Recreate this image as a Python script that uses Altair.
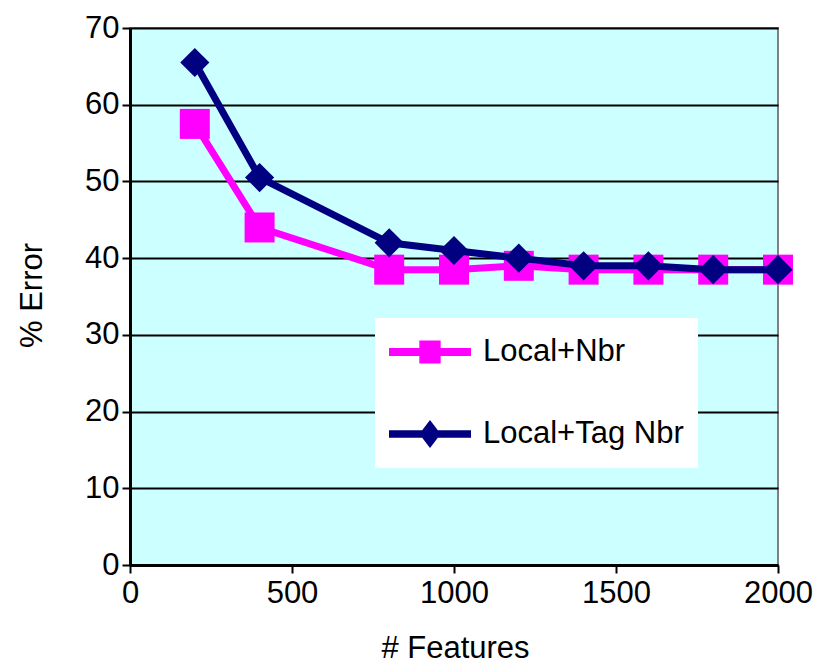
import altair as alt
import pandas as pd

features = [200, 400, 800, 1000, 1200, 1400, 1600, 1800, 2000]
local_nbr = [57.5, 44, 38.5, 38.5, 39, 38.5, 38.5, 38.5, 38.5]
local_tag_nbr = [65.5, 50.5, 42, 41, 40, 39, 39, 38.5, 38.5]
series_names = ["Local+Nbr", "Local+Tag Nbr"]
series_colors = ["#FF00FF", "#000080"]
x_ticks = [0, 500, 1000, 1500, 2000]
y_ticks = [0, 10, 20, 30, 40, 50, 60, 70]

rows = []
for f, v in zip(features, local_nbr):
    rows.append({"features": f, "error": v, "series": series_names[0]})
for f, v in zip(features, local_tag_nbr):
    rows.append({"features": f, "error": v, "series": series_names[1]})
df = pd.DataFrame(rows)

FONT = "Liberation Sans"
FS = 31

x_enc = alt.X("features:Q", scale=alt.Scale(domain=[0, 2000], nice=False),
              axis=alt.Axis(values=x_ticks, grid=False, title="# Features",
                            titleX=325, titleY=83, titleAlign="center",
                            titleBaseline="middle", labelFlush=False,
                            labelPadding=5, format="d"))
y_enc = alt.Y("error:Q", scale=alt.Scale(domain=[0, 70], nice=False),
              axis=alt.Axis(values=y_ticks, grid=True, title="% Error",
                            titleX=-98, titleY=267, titleAngle=-90,
                            titleAlign="center", titleBaseline="middle",
                            labelPadding=3))

base = alt.Chart(df)

def series_layers(name, color, shape, size):
    d = base.transform_filter(alt.datum.series == name)
    line = d.mark_line(color=color, strokeWidth=7).encode(x=x_enc, y=y_enc)
    pts = d.mark_point(shape=shape, filled=True, color=color, size=size,
                       opacity=1).encode(x=x_enc, y=y_enc)
    return [line, pts]

pink_path = ("M-1,-0.1L1,-0.1L1,0.1L-1,0.1Z "
             "M-0.26,-0.28L0.26,-0.28L0.26,0.28L-0.26,0.28Z")
navy_path = ("M-1,-0.09L1,-0.09L1,0.09L-1,0.09Z "
             "M-0.26,0L0,-0.34L0.26,0L0,0.34Z")

legend_def = alt.Legend(orient="none", legendX=245, legendY=290,
                        fillColor="white", padding=14, title=None,
                        labelFont=FONT, labelFontSize=FS, labelColor="black",
                        labelLimit=0,
                        symbolSize=6724, symbolStrokeWidth=0, symbolOpacity=1,
                        clipHeight=40, rowPadding=42, labelOffset=12)

dummy = base.mark_point(filled=True, opacity=0, size=1).encode(
    x=x_enc, y=y_enc,
    color=alt.Color("series:N", scale=alt.Scale(domain=series_names, range=series_colors),
                    legend=legend_def),
    shape=alt.Shape("series:N", scale=alt.Scale(domain=series_names,
                                                range=[pink_path, navy_path]),
                    legend=legend_def),
)

layers = (series_layers(series_names[0], series_colors[0], "square", 900)
          + series_layers(series_names[1], series_colors[1], "diamond", 850)
          + [dummy])

chart = alt.layer(*layers).properties(
    width=648, height=537,
    autosize=alt.AutoSizeParams(type="none"),
    padding={"left": 130, "top": 28, "right": 39, "bottom": 98},
    background="white",
).configure_view(
    fill="#CCFFFF", stroke="#808080", strokeWidth=2
).configure_axis(
    labelFont=FONT, labelFontSize=FS, labelColor="black",
    titleFont=FONT, titleFontSize=FS, titleColor="black", titleFontWeight="normal",
    tickColor="black", tickSize=8, tickWidth=2,
    domainColor="black", domainWidth=3,
    gridColor="black", gridWidth=2,
)

chart.save("out.html", embed_options={"renderer": "svg", "actions": False})
